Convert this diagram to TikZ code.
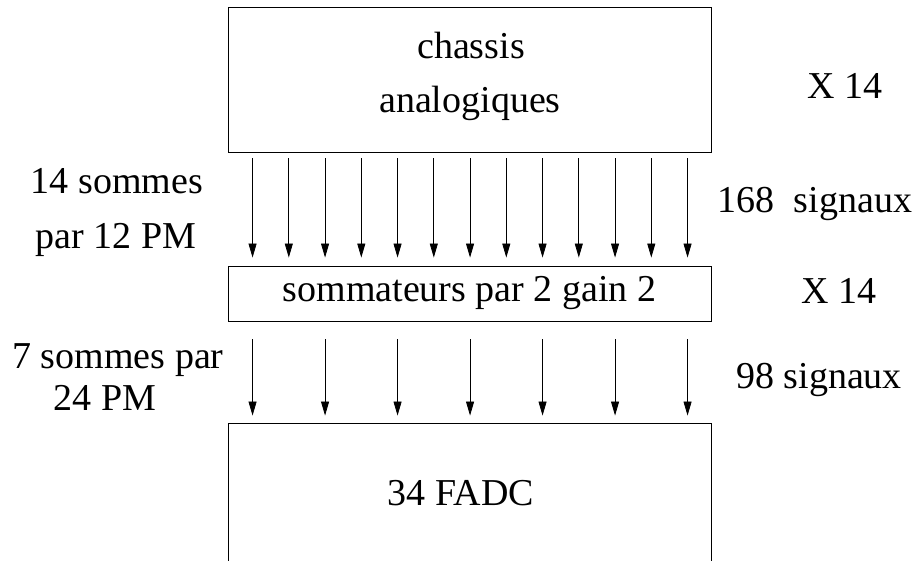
\documentclass[tikz,border=0pt]{standalone}
\usepackage{fontspec}
\setmainfont{Liberation Serif}
\usetikzlibrary{arrows.meta,calc}
\begin{document}
\begin{tikzpicture}[x=1pt,y=-1pt,every node/.style={font=\fontsize{38}{50}\selectfont},
  bloc/.style={draw,line width=0.9pt,minimum width=483pt,inner sep=0pt,align=center},
  sig/.style={-{Triangle[length=14pt,width=8pt]},line width=0.8pt}]
\useasboundingbox (0,0) rectangle (915,560);
\node[bloc,minimum height=145pt] (chassis) at (469.5,79.5) {};
\node[bloc,minimum height=55pt] (somm) at (469.5,293.5) {sommateurs par 2 gain 2};
\node[bloc,minimum height=160pt] (fadc) at (469.5,503) {};
\node[anchor=base] (chtxt) at (471,58) {chassis}; \node[anchor=base] (antxt) at (470,112) {analogiques};
\node[anchor=base] (fadctxt) at (461,505) {34 FADC};
\foreach \i in {0,...,12} \draw[sig] ($(chassis.south west)+(25+36.25*\i,6)$) -- ($(somm.north west)+(25+36.25*\i,-8)$);
\foreach \i in {0,...,6} \draw[sig] ($(somm.south west)+(25+72.5*\i,18)$) -- ($(fadc.north west)+(25+72.5*\i,-7)$);
\node[anchor=base] (nb14) at (117,193) {14 sommes}; \node[anchor=base] (pm12) at (116,248) {par 12 PM};
\node[anchor=base] (nb7) at (118,368) {7 sommes par}; \node[anchor=base] (pm24) at (105,410) {24 PM};
\node[anchor=base] (xa) at (845,98) {X 14}; \node[anchor=base] (xb) at (839,303) {X 14};
\node[anchor=base] (sig168) at (815,212) {168\ \ signaux}; \node[anchor=base] (sig98) at (819,388) {98 signaux};
\end{tikzpicture}
\end{document}
